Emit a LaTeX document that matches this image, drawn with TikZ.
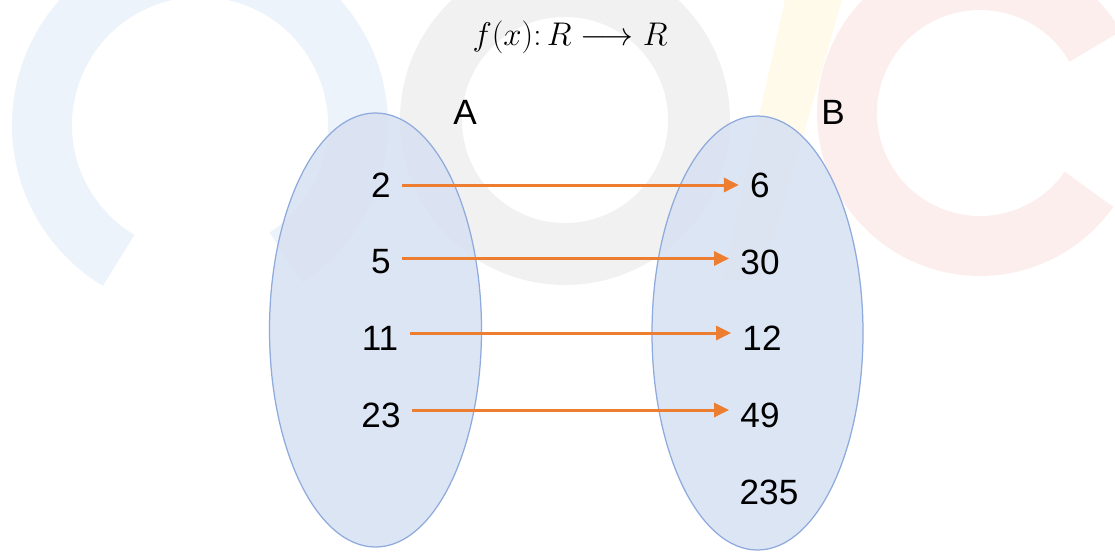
\documentclass[tikz,border=0pt]{standalone}
\usepackage{fontspec}
\setmainfont{Liberation Sans}
\usepackage{xcolor}
\usetikzlibrary{arrows.meta,positioning,calc}

\definecolor{setfill}{HTML}{DAE3F3}
\definecolor{setline}{HTML}{8FAADC}
\definecolor{maporange}{HTML}{ED7D31}
\definecolor{wmblue}{HTML}{EDF3FB}
\definecolor{wmgrey}{HTML}{F1F1F1}
\definecolor{wmpink}{HTML}{FDEEEE}
\definecolor{wmyellow}{HTML}{FFFAEA}

\tikzset{
  elem/.style={inner xsep=0.22cm,inner ysep=0pt,font=\fontsize{20}{24}\selectfont},
  setname/.style={font=\fontsize{20}{24}\selectfont},
  maparrow/.style={-{Triangle[length=0.3cm,width=0.28cm]},maporange,line width=0.06cm},
  setshape/.style={fill=setfill,fill opacity=0.94,draw=setline,line width=0.025cm}
}

\begin{document}
\begin{tikzpicture}[x=0.02cm,y=0.02cm]
\useasboundingbox (0,0) rectangle (1115,552);
% faint logo behind the sets
\draw[wmblue,line width=1.2cm] (200,427) ++(-57:158) arc (-57:239:158);
\draw[wmgrey,line width=1.24cm] (565,432) circle (134);
\fill[wmyellow] (785,552) -- (842,552) -- (762,272) -- (722,272) -- cycle;
\draw[wmpink,line width=1.2cm] (980,439) ++(30:133) arc (30:325:133);

% the two sets
\path[setshape] (375.5,222) ellipse (106 and 217);
\path[setshape] (757.5,219) ellipse (105.5 and 217);

\node[font=\fontsize{20}{24}\selectfont,scale=0.9,transform shape] (title) at (570,515) {$f(x)\colon R\longrightarrow R$};
\node[setname] (setA) at (465,440) {A};
\node[setname] (setB) at (833,440) {B};

\node[elem] (a2) at (381,367) {2};
\node[elem] (a5) at (381,290) {5};
\node[elem] (a11) at (380,214) {11};
\node[elem] (a23) at (381,137) {23};

\node[elem] (b6) at (760,367) {6};
\node[elem] (b30) at (760,290) {30};
\node[elem] (b12) at (762,214) {12};
\node[elem] (b49) at (760,137) {49};
\node[elem] (b235) at (769,60) {235};

\draw[maparrow] (a2) -- (b6);
\draw[maparrow] ([yshift=0.07cm]a5.east) -- ([yshift=0.07cm]b30.west);
\draw[maparrow] ([yshift=0.1cm]a11.east) -- ([yshift=0.1cm]b12.west);
\draw[maparrow] ([yshift=0.1cm]a23.east) -- ([yshift=0.1cm]b49.west);
\end{tikzpicture}
\end{document}
